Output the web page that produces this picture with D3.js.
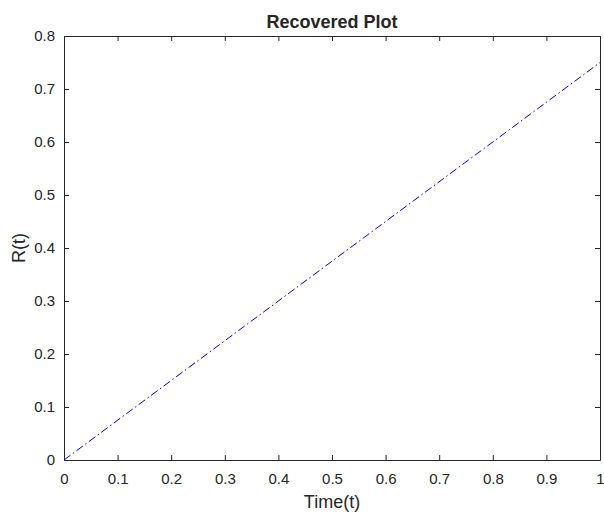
<!DOCTYPE html>
<meta charset="UTF-8">
<html>
<head>
<script src="https://d3js.org/d3.v7.min.js"></script>
<style>
  body { margin: 0; background: #fff; }
  text { font-family: "Liberation Sans", Arial, sans-serif; fill: #262626; }
</style>
</head>
<body>
<svg id="chart" width="604" height="515"></svg>
<script>
// data: straight line R(t) from 0 to 0.75
var timeVals = [0, 1];
var rVals = [0, 0.75];
var xTicks = [0, 0.1, 0.2, 0.3, 0.4, 0.5, 0.6, 0.7, 0.8, 0.9, 1];
var yTicks = [0, 0.1, 0.2, 0.3, 0.4, 0.5, 0.6, 0.7, 0.8];

var svg = d3.select('#chart');
var padL = 64, padR = 600, padT = 36, padB = 460;

var x = d3.scaleLinear().domain([0, 1]).range([padL, padR]);
var y = d3.scaleLinear().domain([0, 0.8]).range([padB, padT]);

var fmt = function (d) { return String(+d.toFixed(1)); };

// bottom and left axes (ticks inward)
var gx = svg.append('g').attr('transform', 'translate(0,' + padB + ')')
  .call(d3.axisBottom(x).tickValues(xTicks).tickFormat(fmt).tickSizeInner(-5).tickSizeOuter(0).tickPadding(13));
var gy = svg.append('g').attr('transform', 'translate(' + padL + ',0)')
  .call(d3.axisLeft(y).tickValues(yTicks).tickFormat(fmt).tickSizeInner(-5).tickSizeOuter(0).tickPadding(9));
// top and right axes (box)
var gt = svg.append('g').attr('transform', 'translate(0,' + padT + ')')
  .call(d3.axisTop(x).tickValues(xTicks).tickFormat('').tickSizeInner(-5).tickSizeOuter(0));
var gr = svg.append('g').attr('transform', 'translate(' + padR + ',0)')
  .call(d3.axisRight(y).tickValues(yTicks).tickFormat('').tickSizeInner(-5).tickSizeOuter(0));

[gx, gy, gt, gr].forEach(function (g) {
  g.selectAll('path.domain').attr('stroke', '#262626').attr('stroke-width', 1);
  g.selectAll('.tick line').attr('stroke', '#262626');
  g.selectAll('text').style('font-size', '15px').style('font-family', '"Liberation Sans", Arial, sans-serif').attr('fill', '#262626');
});

// line
var pts = timeVals.map(function (t, i) { return [t, rVals[i]]; });
svg.append('path')
  .datum(pts)
  .attr('fill', 'none')
  .attr('stroke', '#0000ff')
  .attr('stroke-width', 1)
  .attr('stroke-dasharray', '8,3,1.5,3')
  .attr('d', d3.line().x(function (d) { return x(d[0]); }).y(function (d) { return y(d[1]); }));

// title and labels
svg.append('text').attr('x', (padL + padR) / 2).attr('y', 28)
  .attr('text-anchor', 'middle').style('font-size', '18px').style('font-weight', 'bold')
  .attr('fill', '#000').text('Recovered Plot');
svg.append('text').attr('x', (padL + padR) / 2).attr('y', 508)
  .attr('text-anchor', 'middle').style('font-size', '18px').text('Time(t)');
svg.append('text').attr('transform', 'translate(25,' + (padT + padB) / 2 + ') rotate(-90)')
  .attr('text-anchor', 'middle').style('font-size', '18px').text('R(t)');
</script>
</body>
</html>
